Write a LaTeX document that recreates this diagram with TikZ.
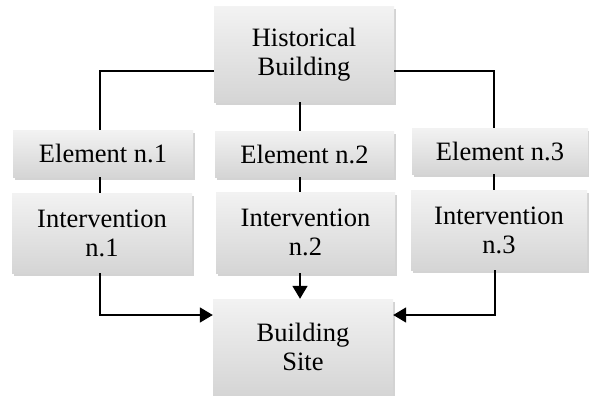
\documentclass[tikz,border=0pt]{standalone}
\usepackage{fontspec}
\setmainfont{Liberation Serif}
\usetikzlibrary{arrows.meta,shadows,calc}
\begin{document}
\begin{tikzpicture}[x=1pt,y=-1pt,
  box/.style={rectangle, draw=none, top color=gray!10, bottom color=gray!33,
    drop shadow={opacity=0.35, shadow xshift=1.5pt, shadow yshift=-2.5pt},
    align=center, inner sep=0pt, font=\fontsize{26.5}{29}\selectfont},
  conn/.style={line width=1.7pt, black},
  arr/.style={conn, -{Triangle[length=13pt,width=15pt]}}]
\useasboundingbox (0,0) rectangle (589,396);
\node[box, minimum width=180pt, minimum height=95pt] (HB) at (304,54.5) {Historical\\Building};
\node[box, minimum width=180pt, minimum height=47pt] (E1) at (103,153.5) {Element n.1};
\node[box, minimum width=179pt, minimum height=46pt] (E2) at (304.5,154) {Element n.2};
\node[box, minimum width=176pt, minimum height=46pt] (E3) at (500,151) {Element n.3};
\node[box, minimum width=180pt, minimum height=80pt] (I1) at (102,233) {Intervention\\n.1};
\node[box, minimum width=179pt, minimum height=81pt] (I2) at (305.5,232.5) {Intervention\\n.2};
\node[box, minimum width=176pt, minimum height=80pt] (I3) at (499,230) {Intervention\\n.3};
\node[box, minimum width=180pt, minimum height=96pt] (BS) at (303,347) {Building\\Site};
\coordinate (cl) at (100,71);
\coordinate (cr) at (494,71);
\coordinate (cm) at (300,0);
\coordinate (bl) at (100,315);
\coordinate (br) at (495,315);
\draw[conn] (HB.west |- cl) -- (cl) -- (cl |- E1.north);
\draw[conn] (HB.east |- cr) -- (cr) -- (cr |- E3.north);
\draw[conn] (cm |- HB.south) -- (cm |- E2.north);
\draw[conn] (cl |- E1.south) -- (cl |- I1.north);
\draw[conn] (cm |- E2.south) -- (cm |- I2.north);
\draw[conn] (cr |- E3.south) -- (cr |- I3.north);
\draw[arr] (bl |- I1.south) -- (bl) -- (BS.west |- bl);
\draw[arr] (cm |- I2.south) -- (cm |- BS.north);
\draw[arr] (br |- I3.south) -- (br) -- (BS.east |- br);
\end{tikzpicture}
\end{document}
